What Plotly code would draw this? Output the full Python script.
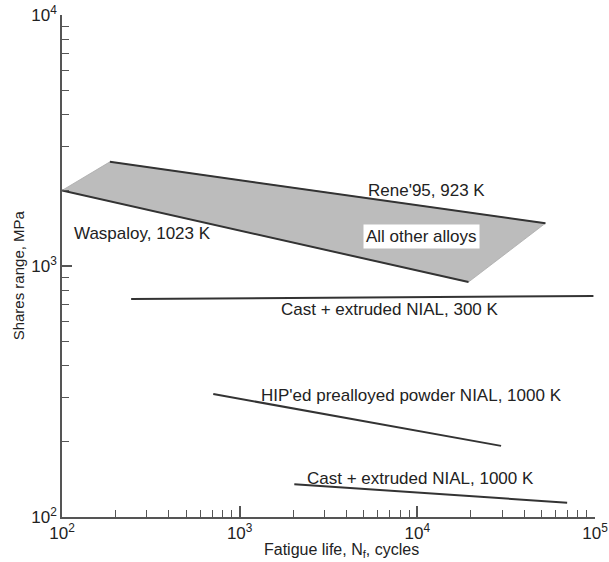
import math
import plotly.graph_objects as go

# Band of "all other alloys" (polygon vertices)
band_x = [100, 186, 52600, 19400, 100]
band_y = [2000, 2600, 1480, 863, 2000]

# Rene'95 upper line and Waspaloy lower line
rene_x = [186, 52600]
rene_y = [2600, 1480]
wasp_x = [100, 19400]
wasp_y = [2000, 863]

# NiAl lines
cast300_x = [245, 98000]
cast300_y = [739, 759]
hip_x = [710, 29600]
hip_y = [309, 192]
cast1000_x = [2030, 69700]
cast1000_y = [135, 114]

# Labels
lab_text = ["Rene'95, 923 K", "Waspaloy, 1023 K", "Cast + extruded NIAL, 300 K",
            "HIP'ed prealloyed powder NIAL, 1000 K", "Cast + extruded NIAL, 1000 K"]
lab_x = [11250, 284, 7050, 9250, 10480]
lab_y = [2008, 1353, 674, 306, 143]

box_text = "All other alloys"
box_x = 10600
box_y = 1305

x_title = "Fatigue life, N<sub>f</sub>, cycles"
y_title = "Shares range, MPa"

xtick_vals = [1e2, 1e3, 1e4, 1e5]
xtick_text = ["10<sup>2</sup>", "10<sup>3</sup>", "10<sup>4</sup>", "10<sup>5</sup>"]
ytick_vals = [1e2, 1e3, 1e4]
ytick_text = ["10<sup>2</sup>", "10<sup>3</sup>", "10<sup>4</sup>"]

minor_x = [m * 10 ** d for d in (2, 3, 4) for m in range(2, 10)]
minor_y = [m * 10 ** d for d in (2, 3) for m in range(2, 10)]

line_col = "#333333"
axis_col = "#555555"
font = "Liberation Sans, Arial, sans-serif"

fig = go.Figure()
fig.add_trace(go.Scatter(x=band_x, y=band_y, mode="lines", fill="toself",
                         fillcolor="#bcbcbc", line=dict(width=0.8, color="#aaaaaa"),
                         hoverinfo="skip"))
for xs, ys in [(rene_x, rene_y), (wasp_x, wasp_y), (cast300_x, cast300_y),
               (hip_x, hip_y), (cast1000_x, cast1000_y)]:
    fig.add_trace(go.Scatter(x=xs, y=ys, mode="lines",
                             line=dict(color=line_col, width=2)))
# invisible trace anchoring the minor-tick overlay axes
fig.add_trace(go.Scatter(x=cast300_x, y=cast300_y, xaxis="x2", yaxis="y2",
                         mode="lines", line=dict(width=0), hoverinfo="skip"))

for t, x, y in zip(lab_text, lab_x, lab_y):
    fig.add_annotation(x=math.log10(x), y=math.log10(y), text=t, showarrow=False,
                       font=dict(size=17, color="#222222", family=font))
fig.add_annotation(x=math.log10(box_x), y=math.log10(box_y), text=box_text, showarrow=False,
                   bgcolor="white", borderpad=2,
                   font=dict(size=17, color="#222222", family=font))

# axis titles
fig.add_annotation(xref="paper", yref="paper", x=0.524, y=-0.066, text=x_title,
                   showarrow=False, xanchor="center", yanchor="middle",
                   font=dict(size=16, color="#222222", family=font))
fig.add_annotation(xref="paper", yref="paper", x=-0.082, y=0.482, text=y_title,
                   textangle=-90, showarrow=False, xanchor="center", yanchor="middle",
                   font=dict(size=15, color="#222222", family=font))

common = dict(showgrid=False, zeroline=False, automargin=False)
fig.update_layout(
    width=609, height=562,
    margin=dict(l=62, r=14, t=15, b=45),
    plot_bgcolor="white", paper_bgcolor="white",
    showlegend=False,
    font=dict(family=font, size=17, color="#222222"),
    xaxis=dict(type="log", range=[2, 5], **common,
               showline=True, linecolor=axis_col, linewidth=1.5,
               tickmode="array", tickvals=xtick_vals, ticktext=xtick_text,
               ticks="inside", ticklen=11, tickcolor=axis_col, tickwidth=1.5,
               tickfont=dict(size=17)),
    yaxis=dict(type="log", range=[2, 4], **common,
               showline=True, linecolor=axis_col, linewidth=1.5,
               tickmode="array", tickvals=ytick_vals, ticktext=ytick_text,
               ticks="inside", ticklen=10, tickcolor=axis_col, tickwidth=1.5,
               tickfont=dict(size=17)),
    xaxis2=dict(type="log", range=[2, 5], overlaying="x", side="bottom", anchor="y", **common,
                tickmode="array", tickvals=minor_x, showticklabels=False,
                ticks="inside", ticklen=7, tickcolor=axis_col, tickwidth=1.3),
    yaxis2=dict(type="log", range=[2, 4], overlaying="y", side="left", anchor="x", **common,
                tickmode="array", tickvals=minor_y, showticklabels=False,
                ticks="inside", ticklen=7, tickcolor=axis_col, tickwidth=1.3),
)

fig.write_html("out.html")
